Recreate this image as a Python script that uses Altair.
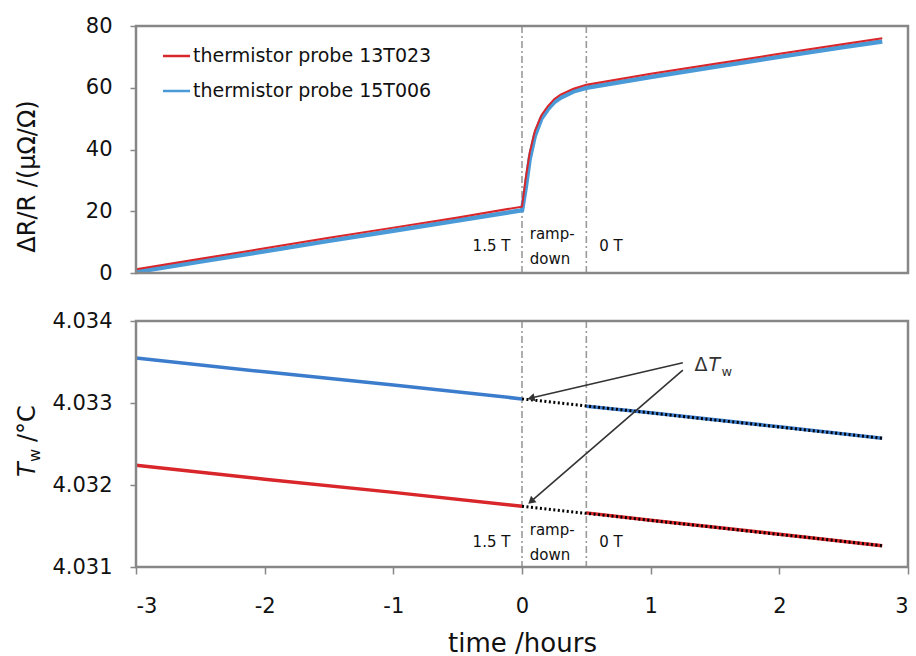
import math
import altair as alt
import pandas as pd

FONT = "DejaVu Sans"
RED = "#d8262a"
BLUE_TOP = "#4a9ad8"
BLUE_BOT = "#3c7ccc"
GREY = "#878787"

# ---------------- data: top panel (ΔR/R) ----------------
t_top = [-3.0, -2.5, -2.0, -1.5, -1.0, -0.5, 0.0, 0.03, 0.06, 0.1, 0.15, 0.2,
         0.25, 0.3, 0.4, 0.5, 1.0, 1.5, 2.0, 2.5, 2.8]
dr_red = [1.2, 4.6, 8.0, 11.4, 14.7, 18.0, 21.5, 31.0, 39.0, 46.0, 51.0, 54.0,
          56.3, 57.8, 59.7, 61.0, 64.5, 67.8, 71.0, 74.2, 76.0]
dr_blue = [0.3, 3.7, 7.0, 10.4, 13.7, 17.0, 20.3, 28.0, 37.0, 44.5, 50.0, 53.0,
           55.3, 56.8, 58.8, 60.0, 63.5, 66.8, 70.0, 73.2, 75.0]
series_names = ["thermistor probe 13T023", "thermistor probe 15T006"]

# ---------------- data: bottom panel (T_w) ----------------
t_before = [-3.0, -2.0, -1.0, 0.0]
tw_blue_before = [4.03355, 4.03338, 4.03322, 4.03305]
tw_red_before = [4.03224, 4.03207, 4.03191, 4.03174]
t_after = [0.5, 1.0, 2.0, 2.8]
tw_blue_after = [4.03296, 4.03288, 4.03271, 4.03257]
tw_red_after = [4.03166, 4.03157, 4.03140, 4.03126]
t_fit = [0.0, 2.8]
tw_blue_fit = [4.03305, 4.03257]
tw_red_fit = [4.03174, 4.03126]

v_lines = [0.0, 0.5]
region_labels = ["1.5 T", "ramp-", "down", "0 T"]

# annotation arrows (data coords): start -> end
arrow_x0 = [1.25, 1.25]
arrow_y0 = [4.03349, 4.03340]
arrow_x1 = [0.07, 0.07]
arrow_y1 = [4.03306, 4.03180]

W = 772
H_TOP = 247
H_BOT = 246
X_DOM = [-3, 3]
Y_BOT_DOM = [4.031, 4.034]

x_top_axis = alt.Axis(labels=False, ticks=False, domain=False, grid=False, title=None)
x_bot_axis = alt.Axis(values=[-3, -2, -1, 0, 1, 2, 3], labelExpr="'' + datum.value",
                      grid=False, domain=False, tickSize=7, tickColor=GREY, tickWidth=1.5,
                      labelFontSize=21, labelPadding=21, labelColor="#111",
                      title="time /hours", titleFontSize=26, titleFontWeight="normal",
                      titlePadding=14, titleColor="#111")
xs = alt.Scale(domain=X_DOM, nice=False)

# frame
frame_df = pd.DataFrame({"k": [0]})


def frame(h):
    return alt.Chart(frame_df).mark_rect(fill=None, stroke=GREY, strokeWidth=2.5).encode(
        x=alt.value(0), x2=alt.value(W), y=alt.value(0), y2=alt.value(h))


# ---------- top panel ----------
df_top = pd.DataFrame({
    "t": t_top * 2,
    "v": dr_red + dr_blue,
    "s": [series_names[0]] * len(t_top) + [series_names[1]] * len(t_top),
})
y_top = alt.Y("v:Q", scale=alt.Scale(domain=[0, 80], nice=False),
              axis=alt.Axis(values=[0, 20, 40, 60, 80], grid=False, domain=False,
                            tickSize=6, tickColor=GREY, tickWidth=1.5,
                            labelFontSize=21, labelPadding=18, labelColor="#111",
                            title="ΔR/R /(μΩ/Ω)", titleFontSize=24, titleY=150,
                            titleFontWeight="normal", titlePadding=46, titleColor="#111"))
top_blue = alt.Chart(df_top).transform_filter(alt.datum.s == series_names[1]).mark_line(
    color=BLUE_TOP, strokeWidth=4.5).encode(x=alt.X("t:Q", scale=xs, axis=x_top_axis), y=y_top)
top_red = alt.Chart(df_top).transform_filter(alt.datum.s == series_names[0]).mark_line(
    color=RED, strokeWidth=2).encode(x=alt.X("t:Q", scale=xs, axis=x_top_axis), y=y_top)

df_v = pd.DataFrame({"t": v_lines})
vrule = alt.Chart(df_v).mark_rule(color="#9a9a9a", strokeWidth=1.6,
                                   strokeDash=[7, 3, 2, 3]).encode(x=alt.X("t:Q", scale=xs))


def region_text(ypx):
    base = []
    lab = pd.DataFrame({"t": [-0.09], "txt": [region_labels[0]]})
    base.append(alt.Chart(lab).mark_text(font=FONT, fontSize=15, align="right",
                                         baseline="middle", color="#111")
                .encode(x=alt.X("t:Q", scale=xs), y=alt.value(ypx[0]), text="txt:N"))
    lab2 = pd.DataFrame({"t": [0.06, 0.06], "txt": region_labels[1:3], "yy": [ypx[1], ypx[2]]})
    base.append(alt.Chart(lab2).mark_text(font=FONT, fontSize=15, align="left",
                                          baseline="middle", color="#111")
                .encode(x=alt.X("t:Q", scale=xs), y=alt.Y("yy:Q", scale=None), text="txt:N"))
    lab3 = pd.DataFrame({"t": [0.6], "txt": [region_labels[3]]})
    base.append(alt.Chart(lab3).mark_text(font=FONT, fontSize=15, align="left",
                                          baseline="middle", color="#111")
                .encode(x=alt.X("t:Q", scale=xs), y=alt.value(ypx[0]), text="txt:N"))
    return base


# manual legend
leg_y = [30, 65]
leg_rows = pd.DataFrame({"s": series_names, "yy": leg_y})
leg_lines = alt.Chart(leg_rows).mark_rule(strokeWidth=2.5).encode(
    x=alt.value(27), x2=alt.value(54), y=alt.Y("yy:Q", scale=None),
    color=alt.Color("s:N", scale=alt.Scale(domain=series_names, range=[RED, BLUE_TOP]), legend=None))
leg_text = alt.Chart(leg_rows).mark_text(font=FONT, fontSize=19, align="left",
                                          baseline="middle", color="#111").encode(
    x=alt.value(57), y=alt.Y("yy:Q", scale=None), text="s:N")

top = alt.layer(vrule, top_blue, top_red, *region_text([220, 208, 233]), leg_lines, leg_text,
                frame(H_TOP)).properties(width=W, height=H_TOP)

# ---------- bottom panel ----------
ys = alt.Scale(domain=Y_BOT_DOM, nice=False, zero=False)
y_bot_axis = alt.Axis(values=[4.031, 4.032, 4.033, 4.034], format=".3f", grid=False,
                      domain=False, tickSize=6, tickColor=GREY, tickWidth=1.5,
                      labelFontSize=21, labelPadding=18, labelColor="#111", title=None)


def seg(ts, vs, color, width=3.5, dash=None):
    d = pd.DataFrame({"t": ts, "v": vs})
    kw = dict(color=color, strokeWidth=width)
    if dash:
        kw["strokeDash"] = dash
    return alt.Chart(d).mark_line(**kw).encode(
        x=alt.X("t:Q", scale=xs, axis=x_bot_axis), y=alt.Y("v:Q", scale=ys, axis=y_bot_axis))


bot_lines = [
    seg(t_before, tw_blue_before, BLUE_BOT),
    seg(t_after, tw_blue_after, BLUE_BOT),
    seg(t_before, tw_red_before, RED),
    seg(t_after, tw_red_after, RED),
    seg(t_fit, tw_blue_fit, "#000", width=3, dash=[2, 2.5]),
    seg(t_fit, tw_red_fit, "#000", width=3, dash=[2, 2.5]),
]

# arrows
df_arr = pd.DataFrame({"x0": arrow_x0, "y0": arrow_y0, "x1": arrow_x1, "y1": arrow_y1})
arr_lines = alt.Chart(df_arr).mark_rule(color="#333", strokeWidth=1.6).encode(
    x=alt.X("x0:Q", scale=xs), y=alt.Y("y0:Q", scale=ys), x2="x1:Q", y2="y1:Q")
heads = []
for x0, y0, x1, y1 in zip(arrow_x0, arrow_y0, arrow_x1, arrow_y1):
    dx = (x1 - x0) * W / (X_DOM[1] - X_DOM[0])
    dy = -(y1 - y0) * H_BOT / (Y_BOT_DOM[1] - Y_BOT_DOM[0])
    ang = math.degrees(math.atan2(dx, -dy)) % 360
    hd = pd.DataFrame({"x": [x1], "y": [y1]})
    heads.append(alt.Chart(hd).mark_point(shape="triangle-up", filled=True, size=70,
                                          color="#333", opacity=1, angle=ang)
                 .encode(x=alt.X("x:Q", scale=xs), y=alt.Y("y:Q", scale=ys)))

# ΔT_w label
dtw = pd.DataFrame({"x": [1.34], "y": [4.03346]})
dt_delta = alt.Chart(dtw).mark_text(text="Δ", font=FONT, fontSize=19, align="left",
                                     baseline="middle", color="#333").encode(
    x=alt.X("x:Q", scale=xs), y=alt.Y("y:Q", scale=ys))
dt_T = alt.Chart(dtw).mark_text(text="T", font=FONT, fontSize=19, fontStyle="italic",
                                 align="left", baseline="middle", color="#333", dx=14).encode(
    x=alt.X("x:Q", scale=xs), y=alt.Y("y:Q", scale=ys))
dt_w = alt.Chart(dtw).mark_text(text="w", font=FONT, fontSize=13, align="left",
                                 baseline="middle", color="#333", dx=27, dy=7).encode(
    x=alt.X("x:Q", scale=xs), y=alt.Y("y:Q", scale=ys))

# manual y title "T_w /°C"
yt_T = alt.Chart(dtw).mark_text(text="T", font=FONT, fontSize=24, fontStyle="italic",
                                 angle=270, align="left", baseline="middle", color="#111").encode(
    x=alt.value(-108), y=alt.value(156))
yt_w = alt.Chart(dtw).mark_text(text="w", font=FONT, fontSize=16, angle=270, align="left",
                                 baseline="middle", color="#111").encode(
    x=alt.value(-101), y=alt.value(141))
yt_rest = alt.Chart(dtw).mark_text(text="/°C", font=FONT, fontSize=24, angle=270,
                                    align="left", baseline="middle", color="#111").encode(
    x=alt.value(-108), y=alt.value(121))

bottom = alt.layer(vrule, *bot_lines, *region_text([221, 209, 234]), arr_lines, *heads,
                   dt_delta, dt_T, dt_w, yt_T, yt_w, yt_rest, frame(H_BOT)
                   ).properties(width=W, height=H_BOT)

chart = alt.vconcat(top, bottom, spacing=48, bounds="flush").properties(
    padding={"left": 14, "top": 14, "right": 4, "bottom": 0}
).configure_view(stroke=None).configure(
    font=FONT
).configure_axis(labelFont=FONT, titleFont=FONT)

chart.save("out.html", embed_options={"renderer": "svg", "actions": False})
